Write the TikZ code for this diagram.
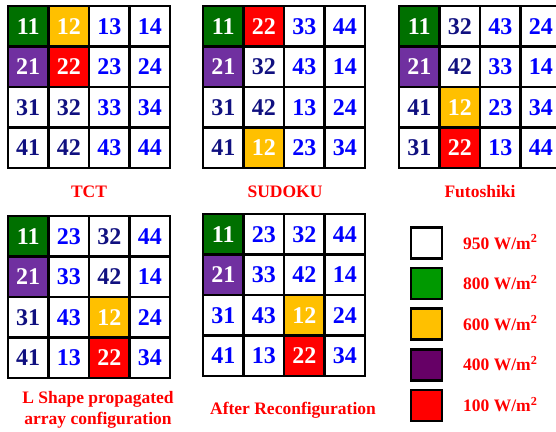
\documentclass[tikz,border=0pt]{standalone}
\usepackage{fontspec}
\setmainfont{Liberation Serif}
\definecolor{gG}{RGB}{0,112,0}
\definecolor{gO}{RGB}{255,192,0}
\definecolor{gP}{RGB}{112,48,160}
\definecolor{gR}{RGB}{255,0,0}
\definecolor{tB}{RGB}{0,0,255}
\definecolor{tN}{RGB}{16,16,128}
\definecolor{lG}{RGB}{0,153,0}
\definecolor{lP}{RGB}{102,0,102}
\definecolor{lbl}{RGB}{255,0,0}
\tikzset{
  cell/.style={draw=black, line width=2.6pt, minimum size=40.5pt, inner sep=0pt,
    font=\bfseries\fontsize{24}{24}\selectfont},
  G/.style={cell, fill=gG, text=white},
  O/.style={cell, fill=gO, text=white},
  P/.style={cell, fill=gP, text=white},
  R/.style={cell, fill=gR, text=white},
  B/.style={cell, fill=white, text=tB},
  N/.style={cell, fill=white, text=tN},
  gridcaption/.style={text=lbl, font=\bfseries\fontsize{17.5}{21}\selectfont, align=center},
  legbox/.style={draw=black, line width=2.6pt, minimum size=31pt, inner sep=0pt},
  legtext/.style={text=lbl, font=\bfseries\fontsize{17.5}{21}\selectfont, anchor=west, inner sep=0pt}
}
\newcommand{\cellgrid}[4]{%
  \foreach \t/\s [count=\i from 0] in {#4} {
    \pgfmathtruncatemacro{\rr}{int(\i/4)}
    \pgfmathtruncatemacro{\cc}{mod(\i,4)}
    \node[\s] (#1-\rr-\cc) at ({#2+20.25+40.5*\cc}, {#3+20.25+40.5*\rr}) {\t};
  }%
}
\begin{document}
\begin{tikzpicture}[x=1pt,y=-1pt]
\useasboundingbox (0,0) rectangle (556,431);
\cellgrid{a}{8}{6}{11/G,12/O,13/B,14/B,21/P,22/R,23/B,24/B,31/N,32/N,33/B,34/B,41/N,42/N,43/B,44/B}
\cellgrid{b}{203}{6}{11/G,22/R,33/B,44/B,21/P,32/N,43/B,14/B,31/N,42/N,13/B,24/B,41/N,12/O,23/B,34/B}
\cellgrid{c}{399}{6}{11/G,32/N,43/B,24/B,21/P,42/N,33/B,14/B,41/N,12/O,23/B,34/B,31/N,22/R,13/B,44/B}
\cellgrid{d}{8}{216}{11/G,23/B,32/N,44/B,21/P,33/B,42/N,14/B,31/N,43/B,12/O,24/B,41/N,13/B,22/R,34/B}
\cellgrid{e}{203}{214}{11/G,23/B,32/B,44/B,21/P,33/B,42/B,14/B,31/B,43/B,12/O,24/B,41/B,13/B,22/R,34/B}
\node[gridcaption] (capa) at (89,192) {TCT};
\node[gridcaption] (capb) at (285,192) {SUDOKU};
\node[gridcaption] (capc) at (480,192) {Futoshiki};
\node[gridcaption] (capd) at (98,409.5) {L Shape propagated\\array configuration};
\node[gridcaption] (cape) at (293,410) {After Reconfiguration};
\foreach \col/\val [count=\k from 0] in {white/950,lG/800,gO/600,lP/400,gR/100} {
  \node[legbox, fill=\col] (box\k) at (426.5, {243+40.6*\k}) {};
  \node[legtext] (leg\k) at (463, {242+40.6*\k}) {\val{} W/m\textsuperscript{2}};
}
\end{tikzpicture}
\end{document}
